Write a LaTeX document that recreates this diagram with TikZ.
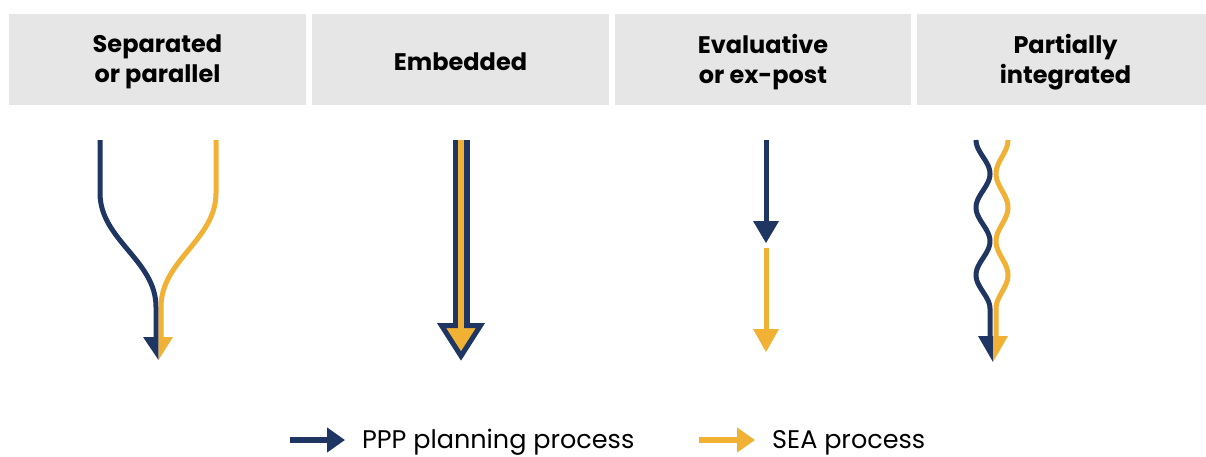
\documentclass[tikz,border=0pt]{standalone}
\usepackage{fontspec}
\setmainfont{Poppins}
\usetikzlibrary{positioning,arrows.meta}
\definecolor{navy}{RGB}{31,54,99}
\definecolor{amber}{RGB}{241,177,52}
\definecolor{panel}{RGB}{230,230,230}
\begin{document}
\begin{tikzpicture}[x=1pt,y=-1pt,
  head/.style={fill=panel,minimum width=297pt,minimum height=91pt,inner sep=0pt,
    align=center,font=\bfseries\fontsize{24}{30}\selectfont},
  ppp/.style={draw=navy,line width=5pt},
  sea/.style={draw=amber,line width=5pt},
  keytext/.style={anchor=base west,inner sep=0pt,font=\fontsize{25.5}{30}\selectfont},
  keyarrow/.style={line width=6pt,-{Triangle[length=18pt,width=24pt]}}]
\useasboundingbox (0,0) rectangle (1206,456);
% headers
\fill[panel] (9,14) rectangle (306,105);
\fill[panel] (312,14) rectangle (609,105);
\fill[panel] (615,14) rectangle (911,105);
\fill[panel] (917,14) rectangle (1206,105);
\node[head,fill=none] (sep) at (157.5,62) {Separated\\or parallel};
\node[head,fill=none] (emb) at (460.5,62) {Embedded};
\node[head,fill=none] (eva) at (763,62) {Evaluative\\or ex-post};
\node[head,fill=none] (par) at (1065.5,62) {Partially\\integrated};
% separated
\draw[ppp] (100,140) -- (100,193) .. controls (100,240) and (156,260) .. (156,307) -- (156,338);
\fill[navy] (143,337) -- (158.5,337) -- (158.5,360) -- cycle;
\draw[sea] (216,140) -- (216,193) .. controls (216,240) and (161,260) .. (161,307) -- (161,338);
\fill[amber] (158.5,337) -- (173,337) -- (158.5,360) -- cycle;
% embedded
\draw[navy,line width=17pt] (461,140) -- (461,326);
\draw[navy,line width=5pt,fill=amber,line join=miter] (441.5,325.5) -- (480.5,325.5) -- (461,356) -- cycle;
\draw[amber,line width=6pt] (461,140) -- (461,335);
% evaluative
\draw[ppp] (766,140) -- (766,222);
\fill[navy] (753,221) -- (779,221) -- (766,243) -- cycle;
\draw[sea] (766,248) -- (766,330);
\fill[amber] (753,329) -- (779,329) -- (766,352) -- cycle;
% partially integrated
\draw[ppp] plot[domain=140:308.75,samples=90] ({983-7*cos((\x-140)*5.33333)},\x) -- (990,337);
\fill[navy] (978,336) -- (993,336) -- (993,362) -- cycle;
\draw[sea] plot[domain=140:308.75,samples=90] ({1002+6*cos((\x-140)*5.33333)},\x) -- (996,337);
\fill[amber] (993,336) -- (1008,336) -- (993,362) -- cycle;
% legend
\node[keytext] (pppkey) at (362,448) {PPP planning process};
\node[keytext] (seakey) at (772,448) {SEA process};
\coordinate (pppfrom) at (290,440);
\coordinate (pppto) at (345,440);
\coordinate (seafrom) at (699,440);
\coordinate (seato) at (755,440);
\draw[keyarrow,navy] (pppfrom) -- (pppto);
\draw[keyarrow,amber] (seafrom) -- (seato);
\end{tikzpicture}
\end{document}
